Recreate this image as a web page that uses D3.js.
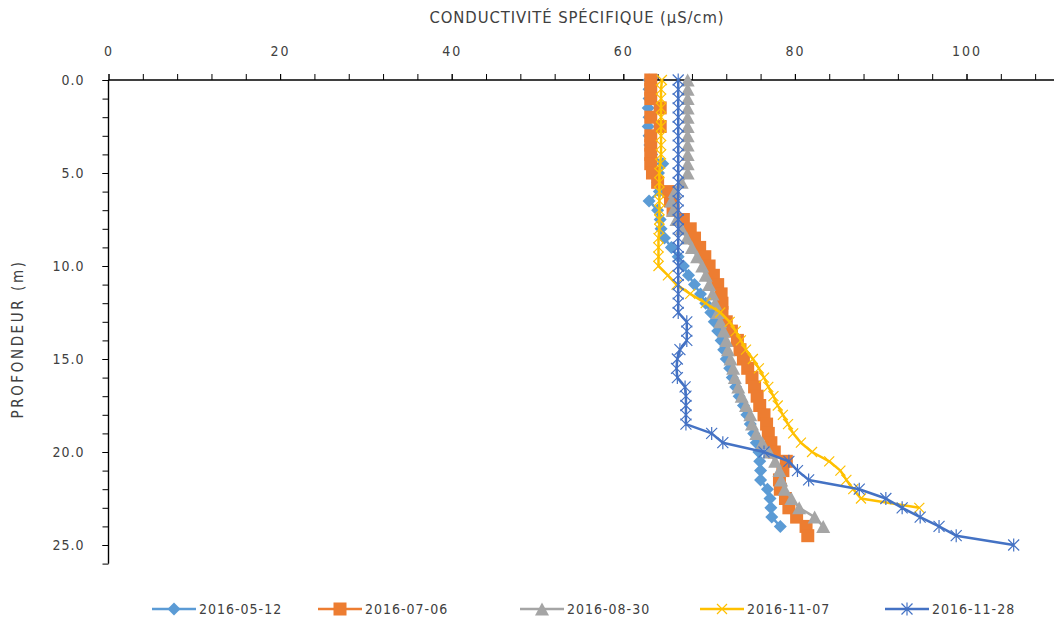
<!DOCTYPE html>
<html>
<head>
<meta charset="utf-8">
<script src="https://cdn.jsdelivr.net/npm/d3@7"></script>
<style>
  html, body { margin: 0; padding: 0; background: #fff; }
  svg text { font-family: "Liberation Sans Narrow", "DejaVu Sans Condensed", "Liberation Sans", sans-serif; fill: #404040; }
</style>
</head>
<body>
<svg id="chart" width="1054" height="623"></svg>
<script>
// ---------- DATA ----------
const seriesNames = ["2016-05-12", "2016-07-06", "2016-08-30", "2016-11-07", "2016-11-28"];

const depth0512 = [0,0.5,1,1.5,2,2.5,3,3.5,4,4.5,5,5.5,6,6.5,7,7.5,8,8.5,9,9.5,10,10.5,11,11.5,12,12.5,13,13.5,14,14.5,15,15.5,16,16.5,17,17.5,18,18.5,19,19.5,20,20.5,21,21.5,22,22.5,23,23.5,24];
const cond0512  = [63.0,63.0,63.0,62.9,63.0,62.9,63.0,63.1,63.3,64.6,64.1,64.0,64.2,63.0,64.0,64.3,64.4,64.8,65.6,66.4,67.0,67.6,68.3,69.0,69.6,70.2,70.6,71.0,71.4,71.7,72.0,72.4,72.7,73.1,73.5,74.0,74.4,74.8,75.2,75.5,75.8,75.9,76.0,76.0,76.8,77.1,77.2,77.3,78.3];

const depth0706 = [0,0.5,1,1.5,2,2.5,3,3.5,4,4.5,5,5.5,6,6.5,7,7.5,8,8.5,9,9.5,10,10.5,11,11.5,12,12.5,13,13.5,14,14.5,15,15.5,16,16.5,17,17.5,18,18.5,19,19.5,20,20.5,21,21.5,22,22.5,23,23.5,24,24.5];
const cond0706  = [63.2,63.2,63.2,64.3,63.2,64.3,63.2,63.2,63.2,63.2,63.4,64.0,65.3,65.5,65.8,67.0,67.8,68.3,68.9,69.5,70.0,70.5,71.0,71.4,71.5,71.5,72.0,72.6,73.3,73.6,74.0,74.5,75.0,75.3,75.6,75.9,76.4,76.7,76.9,77.2,77.6,79.0,78.6,78.2,78.3,78.9,79.3,80.2,81.3,81.5];

const depth0830 = [0,0.5,1,1.5,2,2.5,3,3.5,4,4.5,5,5.5,6,6.5,7,7.5,8,8.5,9,9.5,10,10.5,11,11.5,12,12.5,13,13.5,14,14.5,15,15.5,16,16.5,17,17.5,18,18.5,19,19.5,20,20.5,21,21.5,22,22.5,23,23.5,24];
const cond0830  = [67.5,67.5,67.5,67.5,67.5,67.5,67.5,67.5,67.5,67.5,67.5,66.8,66.0,65.6,65.8,66.2,66.8,67.4,68.0,68.6,69.2,69.6,70.0,70.4,70.7,71.0,71.3,71.7,72.0,72.2,72.5,72.8,73.0,73.4,73.8,74.3,74.8,75.0,75.5,76.2,77.0,77.7,78.2,78.4,78.8,79.6,80.5,82.3,83.3];

const depth1107 = [0,0.5,1,1.5,2,2.5,3,3.5,4,4.5,5,5.5,6,6.5,7,7.5,8,8.5,9,9.5,10,10.5,11,11.5,12,12.5,13,13.5,14,14.5,15,15.5,16,16.5,17,17.5,18,18.5,19,19.5,20,20.5,21,21.5,22,22.5,23];
const cond1107  = [64.5,64.4,64.4,64.4,64.4,64.4,64.4,64.4,64.4,64.3,64.2,64.2,64.2,64.2,64.2,64.2,64.2,64.1,64.1,64.1,64.1,65.2,66.2,67.8,69.6,71.3,72.4,73.1,73.7,74.3,75.1,75.8,76.4,76.9,77.5,78.0,78.6,79.2,79.8,80.7,82.0,84.0,85.3,86.0,86.8,87.7,94.5];

const depth1128 = [0,0.5,1,1.5,2,2.5,3,3.5,4,4.5,5,5.5,6,6.5,7,7.5,8,8.5,9,9.5,10,10.5,11,11.5,12,12.5,13,13.5,14,14.5,15,15.5,16,16.5,17,17.5,18,18.5,19,19.5,20,20.5,21,21.5,22,22.5,23,23.5,24,24.5,25];
const cond1128  = [66.4,66.4,66.4,66.4,66.4,66.4,66.4,66.4,66.4,66.4,66.4,66.4,66.4,66.4,66.4,66.4,66.4,66.4,66.4,66.4,66.4,66.4,66.4,66.4,66.4,66.4,67.4,67.4,67.4,66.6,66.3,66.2,66.3,67.2,67.3,67.3,67.3,67.3,70.3,71.6,76.4,79.3,80.3,81.6,87.5,90.6,92.5,94.6,96.8,98.8,105.5];

const xTickValues = [0, 20, 40, 60, 80, 100];
const yTickValues = [0, 5, 10, 15, 20, 25];

const xTitle = "CONDUCTIVITÉ SPÉCIFIQUE (µS/cm)";
const yTitle = "PROFONDEUR (m)";

// ---------- SETUP ----------
const colors = ["#5B9BD5", "#ED7D31", "#A5A5A5", "#FFC000", "#4472C4"];
const markers = ["diamond", "square", "triangle", "x", "star"];
const series = [
  {name: seriesNames[0], d: depth0512, v: cond0512},
  {name: seriesNames[1], d: depth0706, v: cond0706},
  {name: seriesNames[2], d: depth0830, v: cond0830},
  {name: seriesNames[3], d: depth1107, v: cond1107},
  {name: seriesNames[4], d: depth1128, v: cond1128}
].map((s, i) => ({...s, color: colors[i], marker: markers[i],
    pts: s.d.map((dd, k) => ({depth: dd, value: s.v[k]}))}));

const svg = d3.select("#chart");
const x = d3.scaleLinear().domain([0, 110]).range([108.5, 1052.3]);
const y = d3.scaleLinear().domain([0, 26]).range([80, 563.6]);

// axes
const xAxis = d3.axisTop(x).tickValues(xTickValues).tickFormat(d3.format("d")).tickSize(6).tickPadding(18);
const xMinor = d3.axisTop(x).tickValues(d3.range(0, 109, 4)).tickFormat("").tickSize(6);
const gxm = svg.append("g").attr("transform", `translate(0,${y(0)})`).call(xMinor);
const gx = svg.append("g").attr("transform", `translate(0,${y(0)})`).call(xAxis);
[gx, gxm].forEach(g => {
  g.select(".domain").attr("stroke", "#000").attr("stroke-width", 1.2).attr("d", `M${x(0)},0H1054`);
  g.selectAll(".tick line").attr("stroke", "#000").attr("stroke-width", 1);
});
gx.selectAll(".tick text").attr("font-size", 14).attr("fill", "#404040").style("letter-spacing", "2px");

const yAxis = d3.axisLeft(y).tickValues(yTickValues).tickFormat(d3.format(".1f")).tickSize(6).tickPadding(18);
const yMinor = d3.axisLeft(y).tickValues(d3.range(0, 26.01, 1)).tickFormat("").tickSize(6);
const gym = svg.append("g").attr("transform", `translate(${x(0)},0)`).call(yMinor);
const gy = svg.append("g").attr("transform", `translate(${x(0)},0)`).call(yAxis);
[gy, gym].forEach(g => {
  g.select(".domain").attr("stroke", "#000").attr("stroke-width", 1.2).attr("d", `M0,${y(0)}V${y(26)}`);
  g.selectAll(".tick line").attr("stroke", "#000").attr("stroke-width", 1);
});
gy.selectAll(".tick text").attr("font-size", 14).attr("fill", "#404040").style("letter-spacing", "1px");

// titles
svg.append("text").attr("x", 577).attr("y", 23).attr("text-anchor", "middle")
  .attr("font-size", 16.5).style("letter-spacing", "0.9px").text(xTitle);
svg.append("text").attr("transform", "translate(23,339) rotate(-90)").attr("text-anchor", "middle")
  .attr("font-size", 15).style("letter-spacing", "2.6px").text(yTitle);

// marker drawing
function drawMarker(g, type, color, cx, cy) {
  if (type === "diamond") {
    const h = 6.5;
    g.append("path").attr("d", `M${cx},${cy-h}L${cx+h},${cy}L${cx},${cy+h}L${cx-h},${cy}Z`).attr("fill", color);
  } else if (type === "square") {
    const h = 6.5;
    g.append("rect").attr("x", cx-h).attr("y", cy-h).attr("width", 2*h).attr("height", 2*h).attr("fill", color);
  } else if (type === "triangle") {
    const w = 7, ht = 6.5;
    g.append("path").attr("d", `M${cx},${cy-ht}L${cx+w},${cy+ht}L${cx-w},${cy+ht}Z`).attr("fill", color);
  } else if (type === "x") {
    const h = 5;
    g.append("path").attr("d", `M${cx-h},${cy-h}L${cx+h},${cy+h}M${cx-h},${cy+h}L${cx+h},${cy-h}`)
      .attr("stroke", color).attr("stroke-width", 1.2).attr("fill", "none");
  } else if (type === "star") {
    const h = 5.5;
    g.append("path").attr("d", `M${cx-h},${cy-h}L${cx+h},${cy+h}M${cx-h},${cy+h}L${cx+h},${cy-h}M${cx},${cy-h-1}L${cx},${cy+h+1}`)
      .attr("stroke", color).attr("stroke-width", 1.2).attr("fill", "none");
  }
}

const line = d3.line().x(p => x(p.value)).y(p => y(p.depth));
series.forEach(s => {
  const g = svg.append("g");
  g.append("path").datum(s.pts).attr("d", line).attr("fill", "none")
    .attr("stroke", s.color).attr("stroke-width", 2.5).attr("stroke-linejoin", "round");
  s.pts.forEach(p => drawMarker(g, s.marker, s.color, x(p.value), y(p.depth)));
});

// legend
const legendX = [152, 318, 520, 700, 885];
const legendY = 609;
series.forEach((s, i) => {
  const g = svg.append("g");
  const lx = legendX[i];
  g.append("line").attr("x1", lx).attr("x2", lx + 44).attr("y1", legendY).attr("y2", legendY)
    .attr("stroke", s.color).attr("stroke-width", 2.5);
  drawMarker(g, s.marker, s.color, lx + 22, legendY);
  g.append("text").attr("x", lx + 47).attr("y", legendY + 5).attr("font-size", 14)
    .style("letter-spacing", "1px").text(s.name);
});
</script>
</body>
</html>
